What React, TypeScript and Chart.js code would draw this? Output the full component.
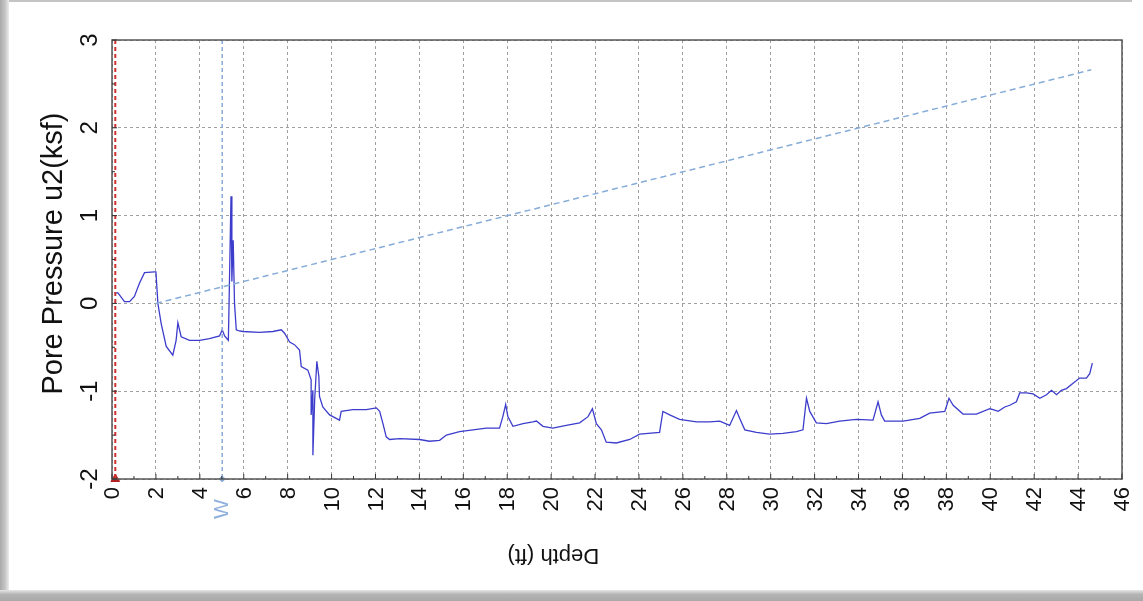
import React, { useEffect, useRef } from "react";
import { Chart, registerables } from "chart.js";

Chart.register(...registerables);

// Depth (ft) and pore pressure u2 (ksf) of the measured trace
const depth = [
  0.11, 0.27, 0.57, 0.8, 1.02, 1.25, 1.48, 1.94, 2.0, 2.09, 2.24, 2.47, 2.77, 2.92, 3.0, 3.15, 3.53, 3.99, 4.44, 4.9, 5.02, 5.13, 5.23,
  5.3, 5.35, 5.42, 5.46, 5.52, 5.58, 5.66, 5.75, 5.96, 6.72, 7.33, 7.71, 7.86, 8.09, 8.31, 8.54, 8.62, 8.92, 9.07, 9.07, 9.15, 9.15,
  9.23, 9.33, 9.42, 9.45, 9.6, 9.91, 10.21, 10.36, 10.44, 10.97, 11.58, 12.04, 12.19, 12.34, 12.49, 12.64, 13.1, 14.01, 14.46, 14.92,
  15.23, 15.83, 16.44, 17.05, 17.65, 17.8, 17.93, 18.03, 18.26, 18.72, 19.17, 19.33, 19.63, 20.08, 20.69, 21.3, 21.68, 21.88, 22.06,
  22.29, 22.51, 22.97, 23.58, 24.03, 24.94, 25.09, 25.4, 25.85, 26.62, 27.22, 27.68, 28.13, 28.44, 28.59, 28.82, 29.35, 29.95, 30.56,
  31.17, 31.47, 31.63, 31.78, 32.08, 32.54, 33.14, 33.9, 34.66, 34.89, 35.04, 35.19, 36.03, 36.79, 37.24, 37.93, 38.12, 38.31, 38.76,
  39.37, 39.98, 40.13, 40.36, 40.66, 40.89, 41.19, 41.34, 41.65, 41.95, 42.26, 42.56, 42.79, 43.02, 43.24, 43.47, 43.77, 44.07,
  44.38, 44.53, 44.65,
];
const u2 = [
  0.12, 0.12, 0.02, 0.02, 0.08, 0.23, 0.35, 0.36, 0.36, 0.0, -0.23, -0.49, -0.59, -0.42, -0.22, -0.38, -0.42, -0.42, -0.4, -0.37, -0.3,
  -0.37, -0.4, -0.42, 0.25, 1.22, 0.25, 0.72, 0.0, -0.3, -0.31, -0.32, -0.33, -0.32, -0.3, -0.34, -0.44, -0.47, -0.53, -0.72, -0.76,
  -0.87, -1.27, -0.99, -1.73, -1.1, -0.66, -0.83, -1.06, -1.18, -1.27, -1.31, -1.33, -1.23, -1.21, -1.21, -1.19, -1.23, -1.37, -1.52,
  -1.55, -1.54, -1.55, -1.57, -1.56, -1.5, -1.46, -1.44, -1.42, -1.42, -1.29, -1.15, -1.29, -1.4, -1.37, -1.35, -1.34, -1.4, -1.42,
  -1.39, -1.36, -1.29, -1.2, -1.37, -1.44, -1.58, -1.59, -1.55, -1.49, -1.47, -1.23, -1.27, -1.32, -1.35, -1.35, -1.34, -1.39, -1.22,
  -1.31, -1.44, -1.47, -1.49, -1.48, -1.46, -1.44, -1.08, -1.23, -1.36, -1.37, -1.34, -1.32, -1.33, -1.12, -1.27, -1.34, -1.34, -1.31,
  -1.25, -1.23, -1.08, -1.16, -1.26, -1.26, -1.2, -1.21, -1.23, -1.18, -1.16, -1.12, -1.02, -1.02, -1.03, -1.08, -1.04, -0.99, -1.04,
  -0.99, -0.97, -0.91, -0.85, -0.85, -0.8, -0.68,
];

// Hydrostatic line end points
const hydroDepth = [2.0, 44.6];
const hydroU = [0.0, 2.66];

// Reference markers
const startDepth = 0.15;
const waterDepth = 5.02;
const waterLabel = "W";

// Axis settings
const xTicks = [0, 2, 4, 6, 8, 10, 12, 14, 16, 18, 20, 22, 24, 26, 28, 30, 32, 34, 36, 38, 40, 42, 44, 46];
const yTicks = [-2, -1, 0, 1, 2, 3];
const xTitle = "Depth (ft)";
const yTitle = "Pore Pressure u2(ksf)";

const FONT = 'Arial, "Liberation Sans", sans-serif';

const textPlugin = {
  id: "customText",
  afterDraw(chart: any) {
    const { ctx, chartArea } = chart;
    const xs = chart.scales.x;
    const ys = chart.scales.y;
    const { left, right, top, bottom } = chartArea;
    ctx.save();
    // frame
    ctx.strokeStyle = "#555";
    ctx.lineWidth = 1.5;
    ctx.setLineDash([]);
    ctx.strokeRect(left, top, right - left, bottom - top);
    // minor ticks
    ctx.lineWidth = 1;
    ctx.strokeStyle = "#333";
    for (let d = 0; d <= 46; d += 1) {
      const px = xs.getPixelForValue(d);
      ctx.beginPath();
      ctx.moveTo(px, bottom);
      ctx.lineTo(px, bottom - (d % 2 === 0 ? 5 : 3));
      ctx.stroke();
    }
    for (let v = -2; v <= 3; v += 0.5) {
      const py = ys.getPixelForValue(v);
      ctx.beginPath();
      ctx.moveTo(left, py);
      ctx.lineTo(left + (Number.isInteger(v) ? 5 : 3), py);
      ctx.stroke();
    }
    ctx.fillStyle = "#111";
    // x tick labels
    ctx.font = `22px ${FONT}`;
    xTicks.forEach((t) => {
      const px = xs.getPixelForValue(t);
      ctx.save();
      ctx.translate(px + 1, bottom + 8);
      ctx.rotate(-Math.PI / 2);
      ctx.textAlign = "right";
      ctx.textBaseline = "middle";
      ctx.fillText(String(t), 0, 0);
      ctx.restore();
    });
    // y tick labels
    ctx.font = `24px ${FONT}`;
    yTicks.forEach((t) => {
      const py = ys.getPixelForValue(t);
      ctx.save();
      ctx.translate(left - 22, py);
      ctx.rotate(-Math.PI / 2);
      ctx.textAlign = "center";
      ctx.textBaseline = "middle";
      ctx.fillText(String(t), 0, 0);
      ctx.restore();
    });
    // y title
    ctx.font = `29px ${FONT}`;
    ctx.save();
    ctx.translate(left - 58, (top + bottom) / 2 - 6);
    ctx.rotate(-Math.PI / 2);
    ctx.textAlign = "center";
    ctx.textBaseline = "middle";
    ctx.fillText(yTitle, 0, 0);
    ctx.restore();
    // x title (upside down)
    ctx.font = `22px ${FONT}`;
    ctx.save();
    ctx.translate(xs.getPixelForValue(20.1), bottom + 76);
    ctx.rotate(Math.PI);
    ctx.textAlign = "center";
    ctx.textBaseline = "middle";
    ctx.fillText(xTitle, 0, 0);
    ctx.restore();
    // water label
    ctx.font = `21px ${FONT}`;
    ctx.fillStyle = "#8fb0dc";
    ctx.save();
    ctx.translate(xs.getPixelForValue(waterDepth), bottom + 30);
    ctx.rotate(-Math.PI / 2);
    ctx.textAlign = "center";
    ctx.textBaseline = "middle";
    ctx.fillText(waterLabel, 0, 0);
    ctx.restore();
    ctx.restore();
  },
};

export default function App() {
  const ref = useRef<HTMLCanvasElement | null>(null);
  useEffect(() => {
    if (!ref.current) return;
    const main = depth.map((d, i) => ({ x: d, y: u2[i] }));
    const hydro = hydroDepth.map((d, i) => ({ x: d, y: hydroU[i] }));
    const chart = new Chart(ref.current, {
      type: "line",
      data: {
        datasets: [
          {
            data: [
              { x: startDepth, y: 3 },
              { x: startDepth, y: -2 },
            ],
            borderColor: "#d13030",
            borderWidth: 2,
            borderDash: [4, 3],
            pointRadius: 0,
          },
          {
            data: [{ x: startDepth, y: -2 }],
            showLine: false,
            pointStyle: "triangle",
            pointRadius: 5,
            backgroundColor: "#b52020",
            borderColor: "#b52020",
            clip: false,
          } as any,
          {
            data: [
              { x: waterDepth, y: 3 },
              { x: waterDepth, y: -2 },
            ],
            borderColor: "#8aaad8",
            borderWidth: 1.5,
            borderDash: [4, 3],
            pointRadius: 0,
          },
          {
            data: [{ x: waterDepth, y: -2 }],
            showLine: false,
            pointStyle: "rectRot",
            pointRadius: 3,
            backgroundColor: "#8aaad8",
            borderColor: "#8aaad8",
            clip: false,
          } as any,
          {
            data: hydro,
            borderColor: "#86acd8",
            borderWidth: 1.5,
            borderDash: [6, 4],
            pointRadius: 0,
          },
          {
            data: main,
            borderColor: "#3d3dcc",
            borderWidth: 1.3,
            pointRadius: 0,
            tension: 0,
          },
        ],
      },
      options: {
        responsive: false,
        animation: false,
        layout: { padding: { left: 112, top: 40, right: 21, bottom: 122 } },
        plugins: { legend: { display: false }, tooltip: { enabled: false } },
        scales: {
          x: {
            type: "linear",
            min: 0,
            max: 46,
            ticks: { display: false, stepSize: 2 },
            grid: { color: "#a0a0a0", drawTicks: false, lineWidth: 1 },
            border: { display: false, dash: [3, 3] },
          },
          y: {
            type: "linear",
            min: -2,
            max: 3,
            ticks: { display: false, stepSize: 1 },
            grid: { color: "#a0a0a0", drawTicks: false, lineWidth: 1 },
            border: { display: false, dash: [3, 3] },
          },
        },
      },
      plugins: [textPlugin],
    });
    return () => chart.destroy();
  }, []);

  return (
    <div style={{ position: "fixed", left: 0, top: 0, width: 1143, height: 601, background: "#fff", overflow: "hidden" }}>
      <div style={{ position: "absolute", left: 0, top: 0, width: 1132, height: 2, background: "#c4c4c4" }} />
      <div
        style={{
          position: "absolute",
          left: 0,
          top: 0,
          width: 9,
          height: 601,
          background: "linear-gradient(to right, #a9a9a9, #c8c8c8 60%, #ececec)",
        }}
      />
      <div
        style={{
          position: "absolute",
          left: 0,
          top: 590,
          width: 1143,
          height: 11,
          background: "linear-gradient(to bottom, #e6e6e6, #b4b4b4 40%, #a8a8a8)",
        }}
      />
      <canvas ref={ref} width={1143} height={601} style={{ position: "absolute", left: 0, top: 0 }} />
    </div>
  );
}
